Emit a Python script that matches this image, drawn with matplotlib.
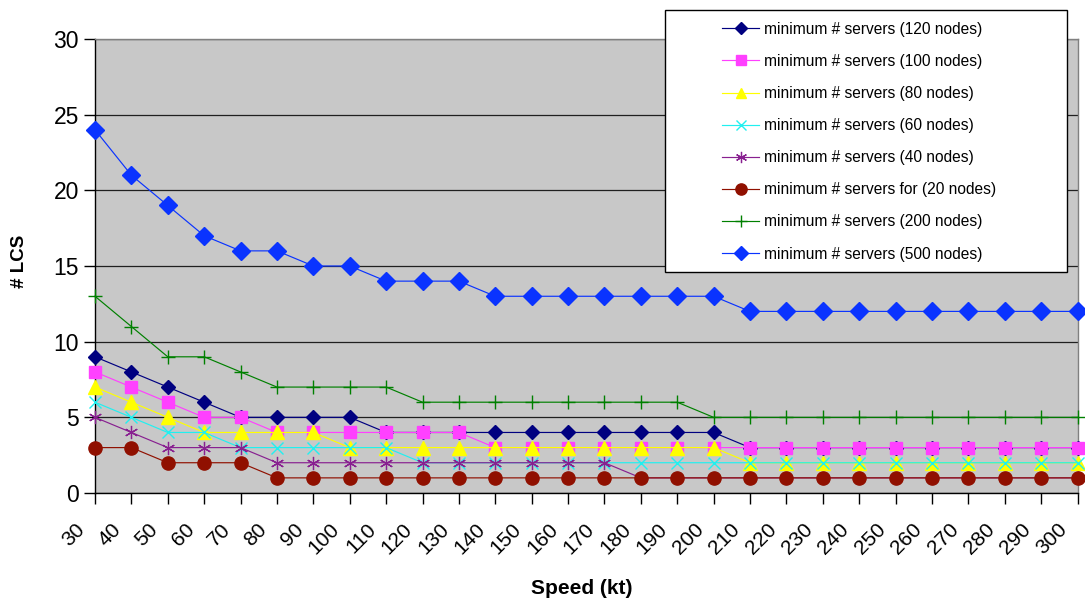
import matplotlib
matplotlib.use("Agg")
import matplotlib.pyplot as plt
from matplotlib.patches import Rectangle
from matplotlib.transforms import ScaledTranslation

plt.rcParams["font.family"] = ["Liberation Sans", "DejaVu Sans"]

# Speed (kt)
speed = list(range(30, 301, 10))

# minimum number of servers per network size
servers_120 = [9, 8, 7, 6, 5, 5, 5, 5, 4, 4, 4, 4, 4, 4, 4, 4, 4, 4, 3, 3, 3, 3, 3, 3, 3, 3, 3, 3]
servers_100 = [8, 7, 6, 5, 5, 4, 4, 4, 4, 4, 4, 3, 3, 3, 3, 3, 3, 3, 3, 3, 3, 3, 3, 3, 3, 3, 3, 3]
servers_80 = [7, 6, 5, 4, 4, 4, 4, 3, 3, 3, 3, 3, 3, 3, 3, 3, 3, 3, 2, 2, 2, 2, 2, 2, 2, 2, 2, 2]
servers_60 = [6, 5, 4, 4, 3, 3, 3, 3, 3, 2, 2, 2, 2, 2, 2, 2, 2, 2, 2, 2, 2, 2, 2, 2, 2, 2, 2, 2]
servers_40 = [5, 4, 3, 3, 3, 2, 2, 2, 2, 2, 2, 2, 2, 2, 2, 1, 1, 1, 1, 1, 1, 1, 1, 1, 1, 1, 1, 1]
servers_20 = [3, 3, 2, 2, 2, 1, 1, 1, 1, 1, 1, 1, 1, 1, 1, 1, 1, 1, 1, 1, 1, 1, 1, 1, 1, 1, 1, 1]
servers_200 = [13, 11, 9, 9, 8, 7, 7, 7, 7, 6, 6, 6, 6, 6, 6, 6, 6, 5, 5, 5, 5, 5, 5, 5, 5, 5, 5, 5]
servers_500 = [24, 21, 19, 17, 16, 16, 15, 15, 14, 14, 14, 13, 13, 13, 13, 13, 13, 13, 12, 12, 12, 12, 12, 12, 12, 12, 12, 12]

labels = [
    "minimum # servers (120 nodes)",
    "minimum # servers (100 nodes)",
    "minimum # servers (80 nodes)",
    "minimum # servers (60 nodes)",
    "minimum # servers (40 nodes)",
    "minimum # servers for (20 nodes)",
    "minimum # servers (200 nodes)",
    "minimum # servers (500 nodes)",
]
y_ticks = [0, 5, 10, 15, 20, 25, 30]

series = [servers_120, servers_100, servers_80, servers_60,
          servers_40, servers_20, servers_200, servers_500]
styles = [
    dict(color="#000080", marker="D", ms=7.5),
    dict(color="#FF40FF", marker="s", ms=8.3),
    dict(color="#FFFF00", marker="^", ms=9.8),
    dict(color="#20F0F0", marker="x", ms=9.0, mew=1.0),
    dict(color="#882090", marker=(6, 2, 0), ms=9.5, mew=0.9),
    dict(color="#901000", marker="o", ms=9.5),
    dict(color="#008000", marker="+", ms=9.5, mew=1.0),
    dict(color="#0A33FF", marker="D", ms=8.8),
]
legend_scale = [0.75, 0.85, 0.8, 0.85, 0.85, 0.85, 0.85, 0.8]

W, H = 1085, 604
fig = plt.figure(figsize=(W / 100, H / 100), dpi=100)
ax = fig.add_axes([95 / W, 1 - 493 / H, (1077.5 - 95) / W, (493 - 39) / H])
ax.set_facecolor("#C8C8C8")

for vals, lab, st in zip(series, labels, styles):
    ax.plot(speed, vals, label=lab, lw=0.85, clip_on=False, zorder=3,
            markeredgecolor=st["color"], **st)

ax.set_xlim(30, 300)
ax.set_ylim(0, 30)
ax.set_xticks(speed)
ax.set_yticks(y_ticks)
ax.set_xticklabels([str(s) for s in speed], rotation=45, ha="right",
                   va="center", rotation_mode="anchor", fontsize=15)
ax.set_yticklabels([str(v) for v in y_ticks], fontsize=16.5)
ax.tick_params(axis="both", direction="out", length=8, width=1, color="black")
ax.tick_params(axis="x", pad=16)
ax.tick_params(axis="y", pad=3.5)
for lbl in ax.get_xticklabels():
    lbl.set_transform(lbl.get_transform() + ScaledTranslation(-13 / 100, 0, fig.dpi_scale_trans))

ax.yaxis.grid(True, color="#202020", lw=0.9)
ax.set_axisbelow(True)
for s in ("left", "bottom"):
    ax.spines[s].set_color("black")
    ax.spines[s].set_linewidth(1.0)
for s in ("top", "right"):
    ax.spines[s].set_color("#808080")
    ax.spines[s].set_linewidth(1.0)

fig.text(19 / W, 1 - 261 / H, "# LCS", rotation=90, ha="center", va="center",
         fontsize=13.5, fontweight="bold")
fig.text(582 / W, 1 - 588 / H, "Speed (kt)", ha="center", va="center",
         fontsize=15, fontweight="bold")

# legend box
fig.patches.append(Rectangle((665 / W, 1 - 272 / H), (1067 - 665) / W, (272 - 10) / H,
                             transform=fig.transFigure, facecolor="white",
                             edgecolor="black", lw=1.0, zorder=4))
leg = fig.legend(loc="center", bbox_to_anchor=(859 / W, 1 - 141.7 / H),
                 frameon=False, fontsize=11.2, handlelength=2.4,
                 handletextpad=0.3, labelspacing=1.1, borderpad=0,
                 numpoints=1)
leg.set_zorder(5)
for h, sc in zip(leg.legend_handles, legend_scale):
    h.set_markersize(h.get_markersize() * sc)

fig.savefig("out.png", dpi=100)
